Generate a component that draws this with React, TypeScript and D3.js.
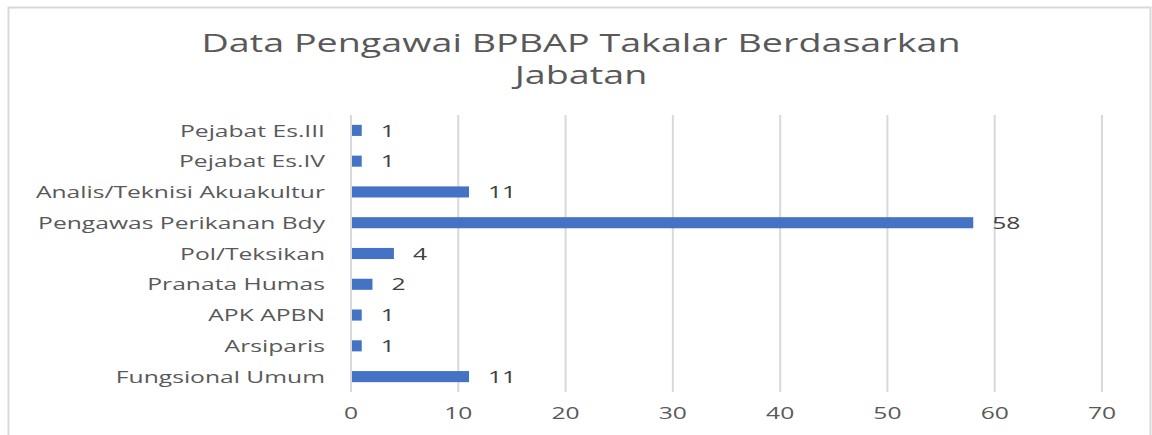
import { useEffect, useRef } from 'react';
import * as d3 from 'd3';

const categories = [
  'Pejabat Es.III',
  'Pejabat Es.IV',
  'Analis/Teknisi Akuakultur',
  'Pengawas Perikanan Bdy',
  'Pol/Teksikan',
  'Pranata Humas',
  'APK APBN',
  'Arsiparis',
  'Fungsional Umum',
];
const values = [1, 1, 11, 58, 4, 2, 1, 1, 11];
const xTicks = [0, 10, 20, 30, 40, 50, 60, 70];
const titleLines = ['Data Pengawai BPBAP Takalar Berdasarkan', 'Jabatan'];

const W = 1152;
const H = 435;
const FONT = '"Open Sans", "Noto Sans", sans-serif';
const TXT = '#595959';
// the source picture is stretched sideways, so its text is wider than tall
const SX = 1.45;

const App = () => {
  const ref = useRef<SVGSVGElement>(null);

  useEffect(() => {
    const svg = d3.select(ref.current);
    svg.selectAll('*').remove();

    const left = 351;
    const right = 1102;
    const top = 115;
    const bottom = 392;

    const x = d3.scaleLinear().domain([0, 70]).range([left, right]);
    const y = d3.scaleBand().domain(categories).range([top, bottom]).paddingInner(0.64).paddingOuter(0.32);
    const at = (px: number, py: number) => `translate(${px},${py}) scale(${SX},1)`;

    svg.append('rect').attr('width', W).attr('height', H).attr('fill', '#ffffff');
    svg.append('rect')
      .attr('x', 8.5).attr('y', 7.5)
      .attr('width', 1142).attr('height', 440)
      .attr('fill', 'none').attr('stroke', '#d9d9d9').attr('stroke-width', 2);

    svg.append('g')
      .selectAll('text')
      .data(titleLines)
      .enter()
      .append('text')
      .attr('transform', (_, i) => at(581, 52 + i * 32))
      .attr('text-anchor', 'middle')
      .style('font-family', FONT)
      .style('font-size', '26px')
      .attr('fill', TXT)
      .text((d) => d);

    // gridlines
    svg.append('g')
      .selectAll('line')
      .data(xTicks)
      .enter()
      .append('line')
      .attr('x1', (d) => x(d)).attr('x2', (d) => x(d))
      .attr('y1', top).attr('y2', bottom)
      .attr('stroke', '#d9d9d9').attr('stroke-width', 2);

    svg.append('g')
      .selectAll('text')
      .data(xTicks)
      .enter()
      .append('text')
      .attr('transform', (d) => at(x(d), 419))
      .attr('text-anchor', 'middle')
      .style('font-family', FONT)
      .style('font-size', '17px')
      .attr('fill', TXT)
      .text((d) => d);

    svg.append('g')
      .selectAll('rect')
      .data(values)
      .enter()
      .append('rect')
      .attr('x', x(0) + 1)
      .attr('y', (_, i) => y(categories[i]) as number)
      .attr('width', (d) => x(d) - x(0) - 1)
      .attr('height', y.bandwidth())
      .attr('fill', '#4472c4');

    svg.append('g')
      .selectAll('text')
      .data(values)
      .enter()
      .append('text')
      .attr('transform', (d, i) => at(x(d) + 19, (y(categories[i]) as number) + y.bandwidth() / 2))
      .attr('dy', '0.36em')
      .style('font-family', FONT)
      .style('font-size', '17px')
      .attr('fill', '#404040')
      .text((d) => d);

    svg.append('g')
      .selectAll('text')
      .data(categories)
      .enter()
      .append('text')
      .attr('transform', (d) => at(325, (y(d) as number) + y.bandwidth() / 2))
      .attr('dy', '0.36em')
      .attr('text-anchor', 'end')
      .style('font-family', FONT)
      .style('font-size', '17px')
      .attr('fill', TXT)
      .text((d) => d);
  }, []);

  return (
    <svg
      ref={ref}
      width={W}
      height={H}
      style={{ position: 'absolute', left: 0, top: 0, display: 'block' }}
    />
  );
};

export default App;
